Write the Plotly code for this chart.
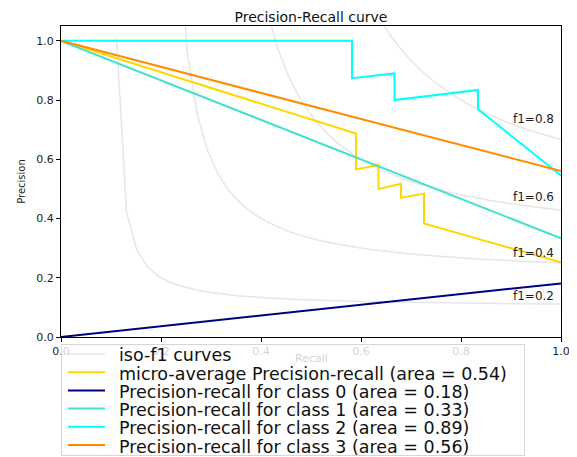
import numpy as np
import plotly.graph_objects as go

# ---- data ----
f1_levels = [0.2, 0.4, 0.6, 0.8]
f1_labels = ["f1=0.2", "f1=0.4", "f1=0.6", "f1=0.8"]

micro_recall = [0.0, 0.590, 0.590, 0.635, 0.635, 0.680, 0.680, 0.726, 0.726, 1.0]
micro_precision = [1.0, 0.687, 0.566, 0.581, 0.500, 0.517, 0.470, 0.484, 0.383, 0.252]

class0_recall = [0.0, 1.0]
class0_precision = [0.0, 0.181]

class1_recall = [0.0, 1.0]
class1_precision = [1.0, 0.333]

class2_recall = [0.0, 0.582, 0.582, 0.667, 0.667, 0.834, 0.834, 1.0]
class2_precision = [1.0, 1.0, 0.874, 0.890, 0.800, 0.834, 0.769, 0.545]

class3_recall = [0.0, 1.0]
class3_precision = [1.0, 0.56]

iso_name = "iso-f1 curves"
iso_color = "rgba(128,128,128,0.2)"
series_names = [
    "micro-average Precision-recall (area = 0.54)",
    "Precision-recall for class 0 (area = 0.18)",
    "Precision-recall for class 1 (area = 0.33)",
    "Precision-recall for class 2 (area = 0.89)",
    "Precision-recall for class 3 (area = 0.56)",
]
series_colors = ["gold", "navy", "turquoise", "aqua", "darkorange"]

x_ticks = [0.0, 0.2, 0.4, 0.6, 0.8, 1.0]
x_tick_labels = ["0.0", "0.2", "0.4", "0.6", "0.8", "1.0"]
y_ticks = [0.0, 0.2, 0.4, 0.6, 0.8, 1.0]
y_tick_labels = ["0.0", "0.2", "0.4", "0.6", "0.8", "1.0"]
x_title = "Recall"
y_title = "Precision"
chart_title = "Precision-Recall curve"

FONT = "DejaVu Sans"
OFF = 8  # the page body offsets the figure by 8px
W, H = 577 - OFF, 457 - OFF
ML, MR, MT, MB = 61 - OFF, 16, 26 - OFF, 120
PW, PH = W - ML - MR, H - MT - MB


def px_x(p):  # screen pixel -> paper x
    return (p - OFF - ML) / PW


def px_y(p):  # screen pixel -> paper y
    return (H - MB - (p - OFF)) / PH


fig = go.Figure()
annotations = []

# iso-f1 reference curves (definition: precision = f*r / (2r - f))
r_grid = np.linspace(0.01, 1, 50)
for i, (f, lab) in enumerate(zip(f1_levels, f1_labels)):
    p = f * r_grid / (2 * r_grid - f)
    m = p >= 0
    fig.add_trace(go.Scatter(
        x=r_grid[m], y=p[m], mode="lines",
        line=dict(color=iso_color, width=1.5),
        name=iso_name, showlegend=False, hoverinfo="skip"))
    annotations.append(dict(
        x=0.9, y=float(p[45]) + 0.02, xref="x", yref="y", text=lab,
        showarrow=False, xanchor="left", yanchor="bottom", yshift=-7,
        font=dict(family=FONT, size=12, color="#222")))

all_r = [micro_recall, class0_recall, class1_recall, class2_recall, class3_recall]
all_p = [micro_precision, class0_precision, class1_precision, class2_precision, class3_precision]
for r, p, n, c in zip(all_r, all_p, series_names, series_colors):
    fig.add_trace(go.Scatter(x=r, y=p, mode="lines", name=n,
                             line=dict(color=c, width=2), showlegend=False))

# x-axis title (drawn before the legend box so the box covers it, as in the reference)
annotations.append(dict(x=0.5, y=px_y(358), xref="paper", yref="paper", text=x_title,
                        showarrow=False, xanchor="center", yanchor="middle",
                        font=dict(family=FONT, size=11, color="#222")))

# ---- legend (matplotlib style, semi-transparent box below the axes) ----
bx_l, bx_r, bx_t, bx_b = 61.5, 525, 344, 456
annotations.append(dict(x=px_x((bx_l + bx_r) / 2), y=px_y((bx_t + bx_b) / 2),
                        xref="paper", yref="paper", text=" ", showarrow=False,
                        xanchor="center", yanchor="middle",
                        width=bx_r - bx_l - 2, height=bx_b - bx_t - 2,
                        bgcolor="rgba(255,255,255,0.8)", bordercolor="#d6d6d6",
                        borderwidth=1, borderpad=0))

leg_names = [iso_name] + series_names
leg_colors = [iso_color] + series_colors
row_y = [354, 372.2, 390.4, 408.6, 426.8, 445]
for name, col, yy in zip(leg_names, leg_colors, row_y):
    annotations.append(dict(x=px_x(105), y=px_y(yy), xref="paper", yref="paper",
                            text="", showarrow=True, arrowhead=0, ax=-38.5, ay=0,
                            arrowwidth=2 if col != iso_color else 1.5,
                            arrowcolor=col, standoff=0, startstandoff=0))
    annotations.append(dict(x=px_x(117), y=px_y(yy), xref="paper", yref="paper",
                            text=name, showarrow=False, xanchor="left",
                            yanchor="middle", yshift=-1.5,
                            font=dict(family=FONT, size=17.5, color="#111")))

fig.update_layout(
    width=W, height=H,
    margin=dict(l=ML, r=MR, t=MT, b=MB, autoexpand=False),
    paper_bgcolor="white", plot_bgcolor="white",
    font=dict(family=FONT, color="#222"),
    showlegend=False,
    title=dict(text=chart_title, x=0.5, xref="paper", xanchor="center",
               y=1 - (17 - OFF) / H, yref="container", yanchor="middle",
               font=dict(family=FONT, size=14, color="#111")),
    xaxis=dict(range=[0, 1], tickvals=x_ticks, ticktext=x_tick_labels,
               showgrid=False, zeroline=False, showline=True, mirror=True,
               linecolor="black", linewidth=1, ticks="outside", ticklen=4,
               tickcolor="black", tickfont=dict(family=FONT, size=11, color="#222")),
    yaxis=dict(range=[0, 1.05], tickvals=y_ticks, ticktext=y_tick_labels,
               showgrid=False, zeroline=False, showline=True, mirror=True,
               linecolor="black", linewidth=1, ticks="outside", ticklen=4,
               tickcolor="black", tickfont=dict(family=FONT, size=11, color="#222"),
               title=dict(text=y_title, font=dict(family=FONT, size=10, color="#222"),
                          standoff=8)),
    annotations=annotations,
)

fig.write_html("out.html")
